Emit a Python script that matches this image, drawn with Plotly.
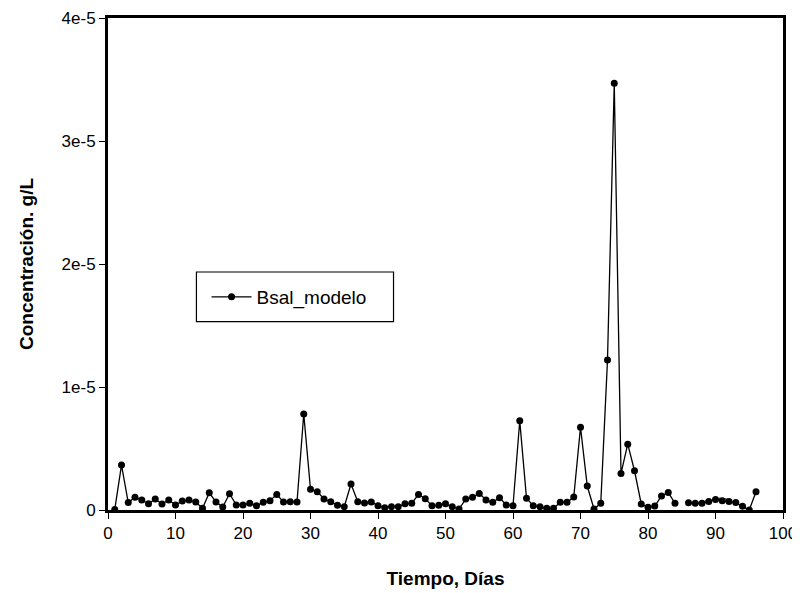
import plotly.graph_objects as go

days = list(range(1, 97))
vals_e6 = [
    0.05, 3.65, 0.60, 1.03, 0.81, 0.51, 0.89, 0.49, 0.81, 0.41,   # 1-10
    0.73, 0.81, 0.65, 0.14, 1.40, 0.65, 0.24, 1.32, 0.41, 0.41,   # 11-20
    0.54, 0.35, 0.62, 0.76, 1.27, 0.65, 0.68, 0.65, 7.81, 1.68,   # 21-30
    1.49, 0.89, 0.68, 0.38, 0.27, 2.11, 0.68, 0.57, 0.65, 0.35,   # 31-40
    0.19, 0.27, 0.27, 0.51, 0.54, 1.27, 0.92, 0.35, 0.38, 0.50,   # 41-50
    0.27, 0.08, 0.89, 1.03, 1.35, 0.81, 0.62, 1.00, 0.41, 0.35,   # 51-60
    7.25, 0.95, 0.35, 0.27, 0.14, 0.14, 0.62, 0.62, 1.05, 6.73,   # 61-70
    1.95, 0.08, 0.54, 12.2, 34.7, 2.97, 5.35, 3.19, 0.49, 0.22,   # 71-80
    0.32, 1.14, 1.43, 0.54, None, 0.59, 0.55, 0.55, 0.70, 0.85,   # 81-90
    0.75, 0.70, 0.60, 0.30, 0.0, 1.49,                            # 91-96
]
conc = [v * 1e-6 if v is not None else None for v in vals_e6]

# faint overlapping dashed trace near the end
extra_days = [88, 89, 90, 91, 92, 93]
extra_e6 = [0.6, 0.85, 1.0, 0.95, 0.9, 0.8]
extra = [v * 1e-6 for v in extra_e6]

ytick_vals = [0, 1e-5, 2e-5, 3e-5, 4e-5]
ytick_text = ["0", "1e-5", "2e-5", "3e-5", "4e-5"]
xtick_vals = list(range(0, 101, 10))

fig = go.Figure()
fig.add_trace(go.Scatter(
    x=extra_days, y=extra, mode="lines", showlegend=False,
    line=dict(color="black", width=1, dash="dash"), hoverinfo="skip",
))
fig.add_trace(go.Scatter(
    x=days, y=conc, mode="lines+markers", name="Bsal_modelo",
    line=dict(color="black", width=1.3),
    marker=dict(color="black", size=7),
    connectgaps=False,
))

# legend frame
fig.add_shape(type="rect", xref="paper", yref="paper",
              x0=0.131, x1=0.423, y0=0.3827, y1=0.4837,
              line=dict(color="black", width=1.2), fillcolor="rgba(0,0,0,0)")

# page body has an 8px margin, so the figure is 8px smaller and offset
fig.update_layout(
    width=792, height=585,
    margin=dict(l=100, r=17, t=10, b=83, autoexpand=False),
    paper_bgcolor="white", plot_bgcolor="white",
    font=dict(family="Liberation Sans, Arial, sans-serif", size=17, color="black"),
    showlegend=True,
    legend=dict(
        x=0.146, y=0.433, xanchor="left", yanchor="middle",
        borderwidth=0, bgcolor="rgba(0,0,0,0)",
        font=dict(size=19), itemwidth=40,
    ),
    xaxis=dict(
        range=[0, 100], tickvals=xtick_vals, ticks="outside", ticklen=6,
        tickwidth=1, tickcolor="black", showgrid=False, zeroline=False,
        showline=True, linecolor="black", linewidth=3, mirror=True,
        automargin=False,
        title=dict(text="<b>Tiempo, Días</b>", font=dict(size=19), standoff=30),
        tickfont=dict(size=17),
    ),
    yaxis=dict(
        range=[0, 4e-5], tickvals=ytick_vals, ticktext=ytick_text,
        ticks="outside", ticklen=6, tickwidth=1, tickcolor="black",
        showgrid=False, zeroline=False, automargin=False,
        showline=True, linecolor="black", linewidth=3, mirror=True,
        title=dict(text="<b>Concentración. g/L</b>", font=dict(size=19), standoff=23),
        tickfont=dict(size=17),
    ),
)

fig.write_html("out.html")
